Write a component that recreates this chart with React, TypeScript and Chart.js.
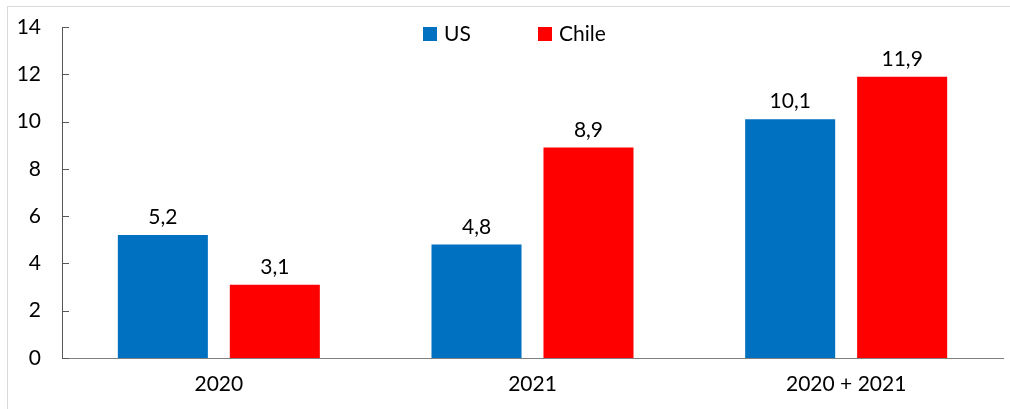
import React, { useEffect, useRef } from "react";
import { Chart, registerables } from "chart.js";

Chart.register(...registerables);

const categories = ["2020", "2021", "2020 + 2021"];
const usValues = [5.2, 4.8, 10.1];
const chileValues = [3.1, 8.9, 11.9];
const seriesNames = ["US", "Chile"];
const seriesColors = ["#0070C0", "#FF0000"];
const yTicks = [0, 2, 4, 6, 8, 10, 12, 14];

const FONT = "Lato, 'Open Sans', sans-serif";

const decorPlugin = {
  id: "decor",
  afterDraw(chart: any) {
    const ctx = chart.ctx;
    const area = chart.chartArea;
    const yScale = chart.scales.y;
    ctx.save();
    // outer border (top / left)
    ctx.strokeStyle = "#D9D9D9";
    ctx.lineWidth = 1;
    ctx.strokeRect(7.5, 6.5, 1100, 1000);
    // inward tick marks on y axis
    ctx.strokeStyle = "#595959";
    ctx.lineWidth = 1;
    yTicks.forEach((v) => {
      const y = Math.round(yScale.getPixelForValue(v)) + 0.5;
      ctx.beginPath();
      ctx.moveTo(area.left, y);
      ctx.lineTo(area.left + 7, y);
      ctx.stroke();
    });
    // data labels
    ctx.fillStyle = "#000";
    ctx.font = `21px ${FONT}`;
    ctx.textAlign = "center";
    ctx.textBaseline = "alphabetic";
    chart.data.datasets.forEach((ds: any, di: number) => {
      const meta = chart.getDatasetMeta(di);
      meta.data.forEach((bar: any, i: number) => {
        const label = String(ds.data[i]).replace(".", ",");
        ctx.fillText(label, bar.x, bar.y - 11);
      });
    });
    // legend
    const legendX = [423, 538];
    ctx.textAlign = "left";
    ctx.textBaseline = "middle";
    seriesNames.forEach((name, i) => {
      ctx.fillStyle = seriesColors[i];
      ctx.fillRect(legendX[i], 27, 14, 14);
      ctx.fillStyle = "#000";
      ctx.fillText(name, legendX[i] + 21, 34);
    });
    ctx.restore();
  },
};

export default function App() {
  const ref = useRef<HTMLCanvasElement>(null);
  useEffect(() => {
    if (!ref.current) return;
    const chart = new Chart(ref.current, {
      type: "bar",
      data: {
        labels: categories,
        datasets: [
          {
            label: seriesNames[0],
            data: usValues,
            backgroundColor: seriesColors[0],
            categoryPercentage: 0.714,
            barPercentage: 0.804,
          },
          {
            label: seriesNames[1],
            data: chileValues,
            backgroundColor: seriesColors[1],
            categoryPercentage: 0.714,
            barPercentage: 0.804,
          },
        ],
      },
      options: {
        animation: false,
        responsive: false,
        maintainAspectRatio: false,
        layout: { padding: { left: 17, right: 7, top: 27, bottom: 0 } },
        plugins: {
          legend: { display: false },
          tooltip: { enabled: false },
        },
        scales: {
          x: {
            grid: { display: false, drawTicks: false },
            border: { display: true, color: "#808080", width: 1 },
            ticks: {
              color: "#000",
              font: { family: FONT, size: 21 },
              padding: 14,
            },
            afterFit: (s: any) => {
              s.height = 51;
              s.paddingLeft = 0;
              s.paddingRight = 0;
            },
          },
          y: {
            min: 0,
            max: 14,
            grid: { display: false, drawTicks: false },
            border: { display: true, color: "#595959", width: 1 },
            ticks: {
              stepSize: 2,
              color: "#000",
              font: { family: FONT, size: 21 },
              padding: 21,
            },
            afterFit: (s: any) => {
              s.width = 45;
              s.paddingTop = 0;
              s.paddingBottom = 0;
            },
          },
        },
      },
      plugins: [decorPlugin],
    });
    return () => chart.destroy();
  }, []);
  return (
    <div style={{ position: "fixed", left: 0, top: 0, width: 1010, height: 409, background: "#fff" }}>
      <canvas ref={ref} width={1010} height={409} />
    </div>
  );
}
